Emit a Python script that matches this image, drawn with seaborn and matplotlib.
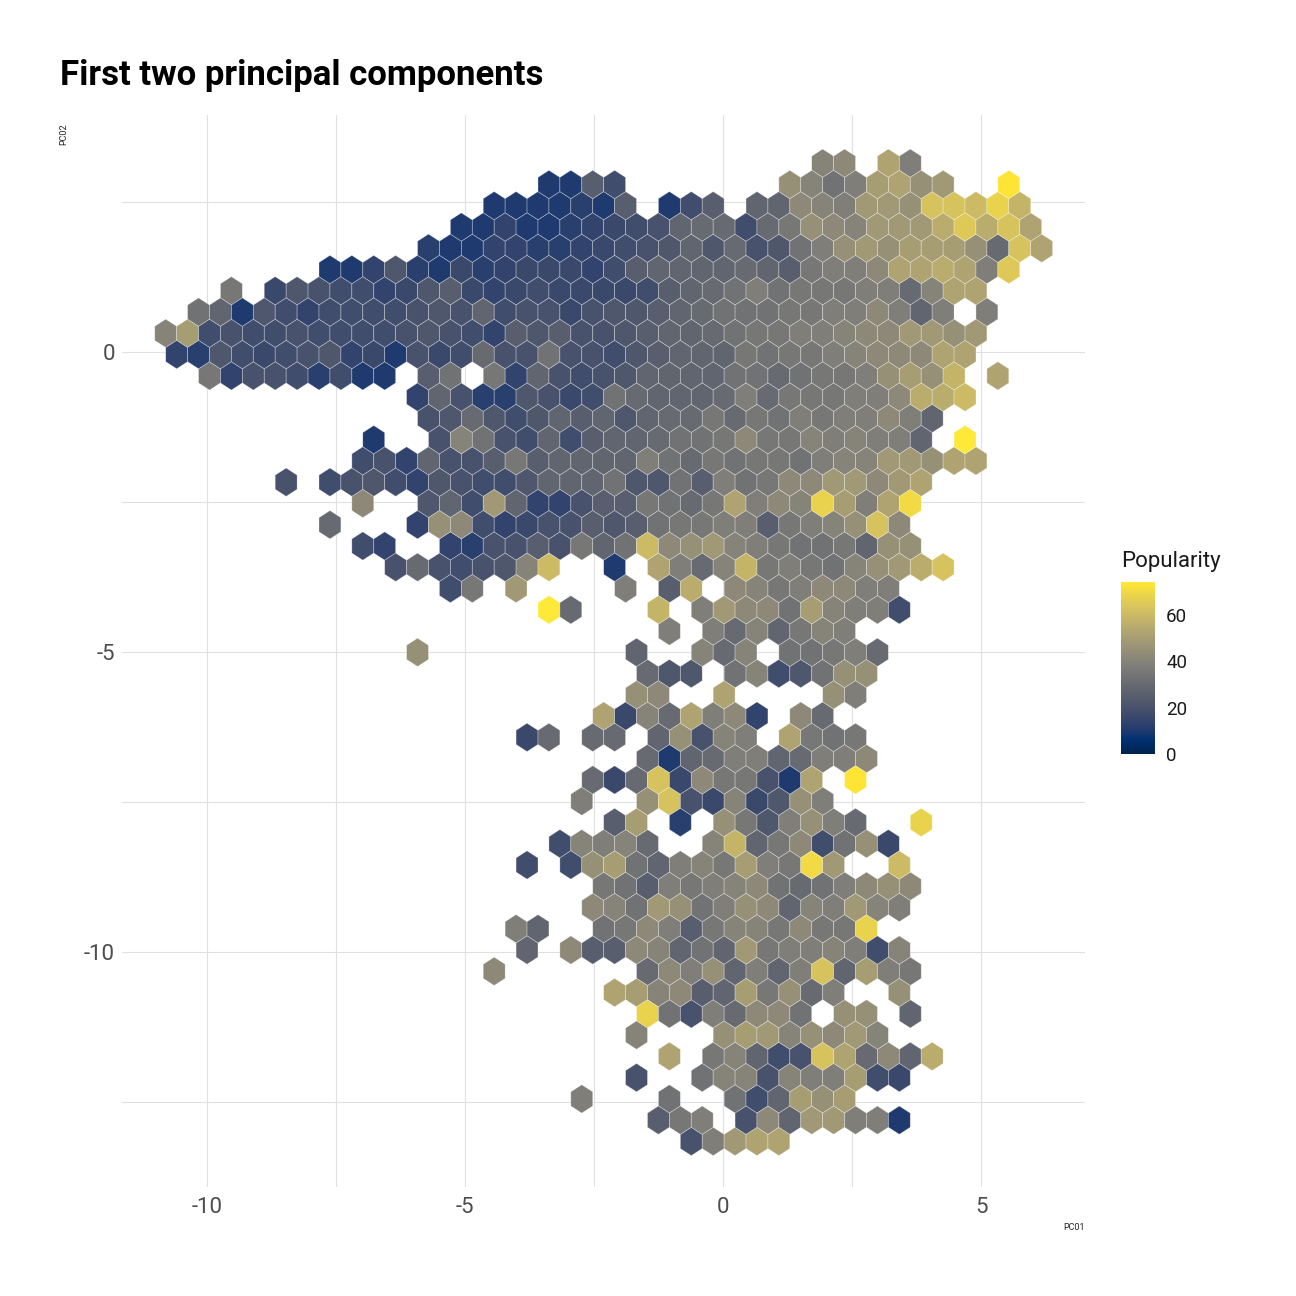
import matplotlib

matplotlib.use("Agg")
import matplotlib.pyplot as plt  # noqa: E402
import numpy as np  # noqa: E402
import pandas as pd  # noqa: E402
import seaborn as sns  # noqa: E402

# ── hex lattice in PC units ──────────────────────────────────────────────
# row r sits at PC02 = ROW0_PC2 - r * ROW_STEP; even rows are offset by
# half a hex to the right (standard hexbin lattice)
FIRST_ROW = -9
ROW0_PC2 = -0.040
ROW_STEP = 0.3544
COL0_PC1 = -10.806
COL_STEP = 0.4244

# mean popularity of the tracks in one hex, coded as one character
LEVELS = {
    "0": 10, "1": 12, "2": 14, "3": 16, "4": 18, "5": 20, "6": 22, "7": 25,
    "8": 28, "9": 30, "a": 33, "b": 35, "c": 38, "d": 40, "e": 42, "f": 45,
    "g": 48, "h": 50, "i": 52, "j": 55, "k": 58, "l": 60, "m": 63, "n": 65,
    "o": 68, "p": 70, "q": 73, "r": 75,
}

# one string per hex row, top to bottom ("." = empty hex)
HEX_ROWS = [
    "..............................de.ic......",
    ".................0074.......fdachifg..q..",
    "...............0000107.047.88edcggfmmlok.",
    ".............002001234589949bfedgggjnjmi.",
    "............10022112345686956acfgfhhhf9mi",
    ".......0026103123332478888987bcceiijicn..",
    "...b.365442367323433334789acabbbcc9dii...",
    ".a8064244445658455356678" + "9aaabbcce" + "c8c.c...",
    "dh4544544445654276755678" + "89abbccdeeggfg...",
    "21643456230534955a554678" + "88babbcdeeeii....",
    "..b25541400.7a.b2854568888aa9abbcfhfk.i..",
    "...........285116534a98889c9bbbccejjl....",
    "............5696468786899b9bacbccec8.....",
    ".........0..5da54847889aabebbdcdcc8.r....",
    ".........4528557b78888ca9babbacddggfii...",
    ".....5.4564265446888a66a7cabeeggegi......",
    ".........e..684g822577ba9bicedohcip......",
    ".......9...2fe42355767abbcc7bcdfme.......",
    ".........42..215575b8alefgdcbaab8ff......",
    "..........595456dl..0.ic9dkbcbadfgjm.....",
    ".............4b.g....c.7j.edbceecc.......",
    ".................r9...k.cgeeahdcc4.......",
    ".......................c.c9d8bdc.........",
    "...........f.........8..d9d.aabc9........",
    "......................966.ad46aff........",
    ".....................fe..i....fc.........",
    "....................i3d9ice2.e9..........",
    "................39.99.8f5dc.ibab.........",
    "......................9089cc89cce........",
    "...................939m3ebb50i.q.........",
    "...................c..fm53d36fc..........",
    "....................7h.1.fb6cfc9..o......",
    "..................4dcd9..dk8be4af3.......",
    "................4.4fha8cdbhcbpg..l.......",
    "....................ba7cbcdea9acefe......",
    "...................edagfacfe8dcgdc.......",
    "................c8..abec7bddbebbo........",
    "................8.e77ed8a8gbccdc4d.......",
    "...............e......9ecf8c8cm8hcb......",
    "....................ihde78hbf9c..f.......",
    "......................oa5c9eea.ff.8......",
    ".....................d...fhgdfegd........",
    ".......................i.bd845mi9e8j.....",
    ".....................5..add5dcch43.......",
    "...................c...a..a48hfh.........",
    "......................7bc.5e8ggcc0.......",
    "........................5cgii............",
]

# fill scale of the legend
POP_MIN, POP_MAX = 0, 74
COLORBAR_TICKS = [0, 20, 40, 60]

N_COLS = 41

HEX_ROWS = [r.ljust(N_COLS, ".")[:N_COLS] for r in HEX_ROWS]

records = []
for i, line in enumerate(HEX_ROWS):
    row = FIRST_ROW + i
    shift = 0.5 if row % 2 == 0 else 0.0
    for k, ch in enumerate(line):
        if ch == ".":
            continue
        records.append(
            {
                "PC01": COL0_PC1 + (k + shift) * COL_STEP,
                "PC02": ROW0_PC2 - row * ROW_STEP,
                "popularity": LEVELS[ch],
            }
        )
df = pd.DataFrame(records)

last_row = FIRST_ROW + len(HEX_ROWS) - 1
n_y = (last_row - FIRST_ROW) // 2
ymin = ROW0_PC2 - last_row * ROW_STEP
ymax = ymin + n_y * 2 * ROW_STEP
xmin = COL0_PC1
xmax = xmin + N_COLS * COL_STEP

sns.set_theme(style="whitegrid")
plt.rcParams["font.family"] = ["Roboto", "DejaVu Sans"]
plt.rcParams["axes.unicode_minus"] = False

fig = plt.figure(figsize=(12.96, 12.96), dpi=100)
ax = fig.add_axes([122 / 1296, 1 - 1187 / 1296, 963 / 1296, 1072 / 1296])
ax.set_facecolor("white")

cmap = sns.color_palette("cividis", as_cmap=True)
hb = ax.hexbin(
    df["PC01"], df["PC02"], C=df["popularity"],
    reduce_C_function=np.mean,
    gridsize=(N_COLS, n_y),
    extent=(xmin, xmax, ymin, ymax),
    cmap=cmap, vmin=POP_MIN, vmax=POP_MAX,
    edgecolors=(1, 1, 1, 0.4), linewidths=0.5, zorder=2,
)

ax.set_xlim(-11.653, 7.010)
ax.set_ylim(-13.912, 3.953)
ax.set_xticks([-10, -5, 0, 5])
ax.set_xticks([-7.5, -2.5, 2.5], minor=True)
ax.set_yticks([-10, -5, 0])
ax.set_yticks([-12.5, -7.5, -2.5, 2.5], minor=True)
ax.grid(True, which="both", color="#e0e0e0", linewidth=0.8, zorder=0)
ax.set_axisbelow(True)
for s in ax.spines.values():
    s.set_visible(False)
ax.tick_params(which="both", length=0, labelsize=16, labelcolor="#4d4d4d")
ax.tick_params(axis="x", pad=7)
ax.tick_params(axis="y", pad=5)

ax.set_xlabel("")
ax.set_ylabel("")
fig.text(1085 / 1296, 1 - 1228 / 1296, "PC01", ha="right", va="center",
         fontsize=6.5, color="#222222")
fig.text(64 / 1296, 1 - 123 / 1296, "PC02", ha="center", va="top",
         rotation=90, fontsize=6.5, color="#222222")

fig.text(60 / 1296, 1 - 85 / 1296, "First two principal components",
         ha="left", va="baseline", fontsize=25, fontweight="bold",
         color="black")

# colour legend
cax = fig.add_axes([1121 / 1296, 1 - 754 / 1296, 34 / 1296, 172 / 1296])
cbar = fig.colorbar(hb, cax=cax)
cbar.outline.set_visible(False)
cbar.set_ticks(COLORBAR_TICKS)
cax.tick_params(which="both", direction="in", length=4, width=0.8,
                color="white", left=True, right=True, labelleft=False,
                labelright=True, labelsize=13.5, labelcolor="#1a1a1a", pad=8)
cax.minorticks_off()
fig.text(1121 / 1296, 1 - 567 / 1296, "Popularity", ha="left",
         va="baseline", fontsize=16, color="#1a1a1a")

fig.savefig("out.png", dpi=100, facecolor="white")
